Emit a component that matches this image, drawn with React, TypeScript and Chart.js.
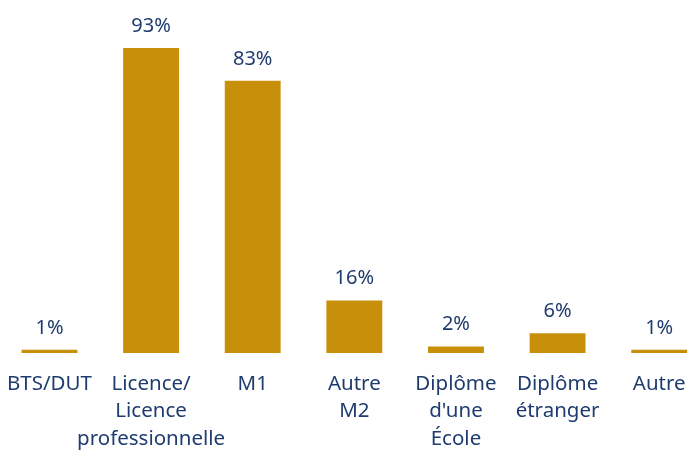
import React, { useEffect, useRef } from "react";
import { Chart, registerables } from "chart.js";

Chart.register(...registerables);

const categories: (string | string[])[] = [
  "BTS/DUT",
  ["Licence/", "Licence", "professionnelle"],
  "M1",
  ["Autre", "M2"],
  ["Diplôme", "d'une", "École"],
  ["Diplôme", "étranger"],
  "Autre",
];
const values = [1, 93, 83, 16, 2, 6, 1];
const valueLabels = ["1%", "93%", "83%", "16%", "2%", "6%", "1%"];

const BAR = "#C8900A";
const TEXT = "#1F3C6E";
const FONT = "'Noto Sans', 'Open Sans', sans-serif";

const valuePlugin = {
  id: "valueLabels",
  afterDatasetsDraw(chart: any) {
    const ctx = chart.ctx;
    const meta = chart.getDatasetMeta(0);
    ctx.save();
    ctx.fillStyle = TEXT;
    ctx.font = `20px ${FONT}`;
    ctx.textAlign = "center";
    ctx.textBaseline = "alphabetic";
    meta.data.forEach((bar: any, i: number) => {
      ctx.fillText(valueLabels[i], bar.x, bar.y - 16);
    });
    ctx.restore();
  },
};

export default function App() {
  const ref = useRef<HTMLCanvasElement>(null);
  useEffect(() => {
    if (!ref.current) return;
    const chart = new Chart(ref.current, {
      type: "bar",
      data: {
        labels: categories,
        datasets: [
          {
            data: values,
            backgroundColor: BAR,
            categoryPercentage: 1,
            barPercentage: 0.55,
          },
        ],
      },
      options: {
        animation: false,
        responsive: true,
        maintainAspectRatio: false,
        layout: { padding: { top: 25, bottom: 0, left: 0, right: 0 } },
        plugins: { legend: { display: false }, tooltip: { enabled: false } },
        scales: {
          y: { display: false, min: 0, max: 100 },
          x: {
            grid: { display: false, drawTicks: false },
            border: { display: false },
            ticks: {
              autoSkip: false,
              maxRotation: 0,
              minRotation: 0,
              padding: 17,
              color: TEXT,
              font: { family: FONT, size: 20.5, lineHeight: 1.35 },
            },
          },
        },
      },
      plugins: [valuePlugin],
    });
    return () => chart.destroy();
  }, []);
  return (
    <div style={{ position: "fixed", left: -10, top: 0, width: 720, height: 470, background: "#fff" }}>
      <canvas ref={ref} />
    </div>
  );
}
